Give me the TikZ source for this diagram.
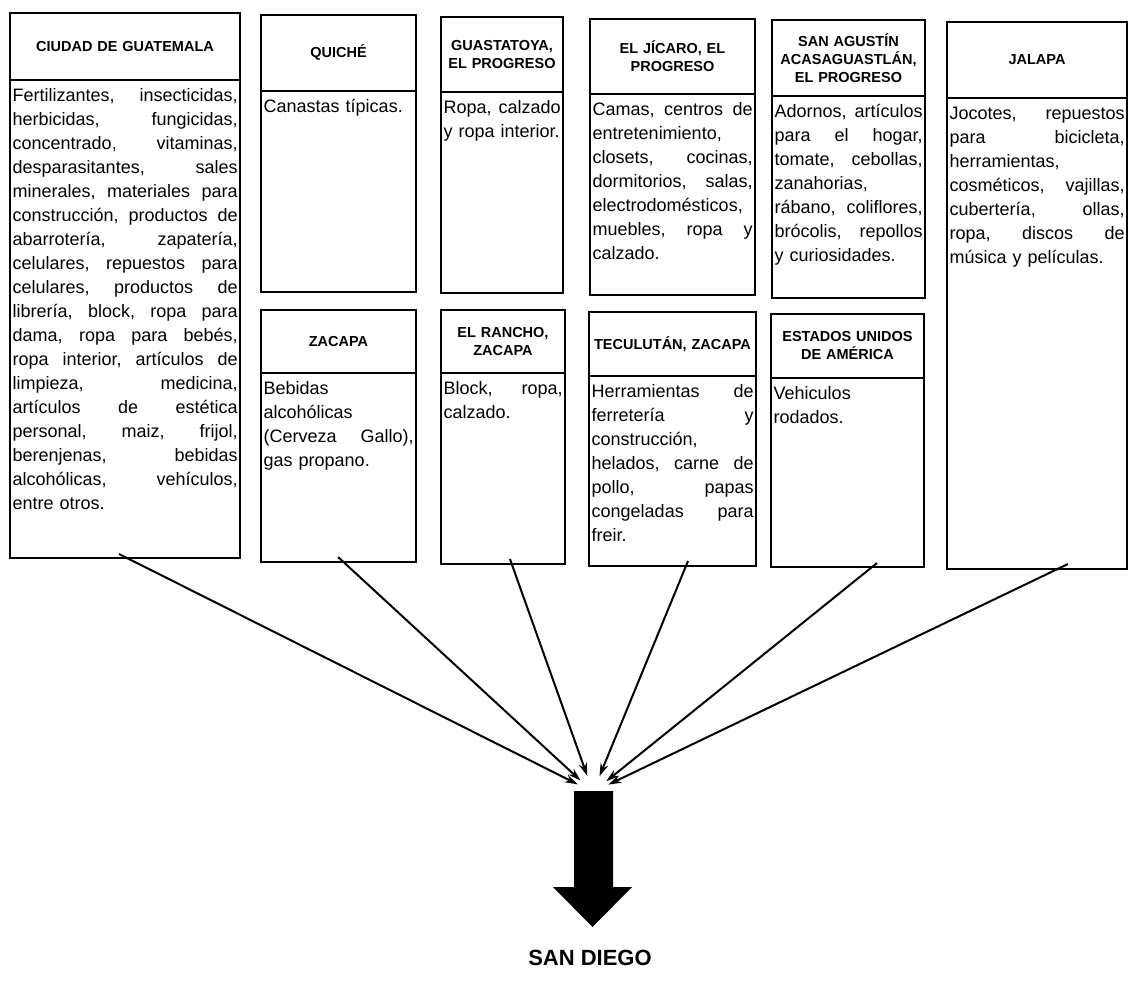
\documentclass[tikz,border=0pt]{standalone}
\usepackage{fontspec}
\setmainfont{Liberation Sans}
\usetikzlibrary{arrows.meta,calc,fit}
\newcommand\jl[1]{\makebox[\bw pt][s]{\frenchspacing\spaceskip=.278em plus 1fil\relax #1}}
\newcommand\placebox[8]{%
  \pgfmathsetmacro\bw{#3-#2-5}%
  \pgfmathsetmacro\hw{#3-#2-6}%
  \node[frame, fit={(#2,#4) (#3,#6)}] (#1) {};
  \draw[divider] (#2,#5) -- (#3,#5);
  \node[head, text width=\hw pt] (#1-h) at ({(#2+#3)/2},{(#4+#5)/2}) {#7};
  \node[body, text width=\bw pt, anchor=north west] (#1-b) at ({#2+2.5},{#5+4.5}) {#8};
}
\begin{document}
\begin{tikzpicture}[x=1pt,y=-1pt,
  frame/.style={draw, line width=1.1pt, inner sep=0pt, outer sep=0pt},
  divider/.style={line width=1.1pt},
  head/.style={font=\bfseries\fontsize{14.5}{18}\selectfont, align=center, inner sep=0pt},
  body/.style={font=\fontsize{18}{24}\selectfont, align=left, inner sep=0pt},
  conn/.style={line width=2pt, -{Stealth[length=13pt,width=8pt]}, shorten >=17pt}]
\useasboundingbox (0,0) rectangle (1129,984);

\placebox{gua}{10}{240}{13}{80}{558}{CIUDAD DE GUATEMALA}{%
\jl{\strut Fertilizantes, insecticidas,}\\
\jl{herbicidas, fungicidas,}\\
\jl{concentrado, vitaminas,}\\
\jl{desparasitantes, sales}\\
\jl{minerales, materiales para}\\
\jl{construcción, productos de}\\
\jl{abarrotería, zapatería,}\\
\jl{celulares, repuestos para}\\
\jl{celulares, productos de}\\
\jl{librería, block, ropa para}\\
\jl{dama, ropa para bebés,}\\
\jl{ropa interior, artículos de}\\
\jl{limpieza, medicina,}\\
\jl{artículos de estética}\\
\jl{personal, maiz, frijol,}\\
\jl{berenjenas, bebidas}\\
\jl{alcohólicas, vehículos,}\\
entre otros.}

\placebox{qui}{261}{416}{15}{91}{292}{QUICHÉ}{\strut Canastas típicas.}

\placebox{gp}{441}{563}{17}{92}{293}{GUASTATOYA,\\EL PROGRESO}{%
\jl{\strut Ropa, calzado}\\
y ropa interior.}

\placebox{jic}{590}{755}{19}{94}{295}{EL JÍCARO, EL\\PROGRESO}{%
\jl{\strut Camas, centros de}\\
entretenimiento,\\
\jl{closets, cocinas,}\\
\jl{dormitorios, salas,}\\
electrodomésticos,\\
\jl{muebles, ropa y}\\
calzado.}

\placebox{sag}{772}{925}{20}{96}{298}{SAN AGUSTÍN\\ACASAGUASTLÁN,\\EL PROGRESO}{%
\jl{\strut Adornos, artículos}\\
\jl{para el hogar,}\\
\jl{tomate, cebollas,}\\
zanahorias,\\
\jl{rábano, coliflores,}\\
\jl{brócolis, repollos}\\
y curiosidades.}

\placebox{jal}{947}{1127}{22}{98}{569}{JALAPA}{%
\jl{\strut Jocotes, repuestos}\\
\jl{para bicicleta,}\\
herramientas,\\
\jl{cosméticos, vajillas,}\\
\jl{cubertería, ollas,}\\
\jl{ropa, discos de}\\
música y películas.}

\placebox{zac}{261}{416}{310}{373}{562}{ZACAPA}{%
\strut Bebidas\\
alcohólicas\\
\jl{(Cerveza Gallo),}\\
gas propano.}

\placebox{ran}{441}{565}{310}{373}{564}{EL RANCHO,\\ZACAPA}{%
\jl{\strut Block, ropa,}\\
calzado.}

\placebox{tec}{589}{756}{312}{376}{566}{TECULUTÁN, ZACAPA}{%
\jl{\strut Herramientas de}\\
\jl{ferretería y}\\
construcción,\\
\jl{helados, carne de}\\
\jl{pollo, papas}\\
\jl{congeladas para}\\
freir.}

\placebox{usa}{771}{924}{314}{378}{567}{ESTADOS UNIDOS\\DE AMÉRICA}{%
\strut Vehiculos\\
rodados.}

% connectors
\coordinate (T) at (593,792);
\coordinate (s1) at ($(gua.south west)!0.474!(gua.south east)+(0,-4)$);
\coordinate (s2) at ($(zac.south west)!0.497!(zac.south east)+(0,-5)$);
\coordinate (s3) at ($(ran.south west)!0.556!(ran.south east)+(0,-5)$);
\coordinate (s4) at ($(tec.south west)!0.593!(tec.south east)+(0,-5)$);
\coordinate (s5) at ($(usa.south west)!0.693!(usa.south east)+(0,-4)$);
\coordinate (s6) at ($(jal.south west)!0.672!(jal.south east)+(0,-5)$);
\foreach \s in {s1,s2,s3,s4,s5,s6} \draw[conn] (\s) -- (T);

% big arrow
\fill[black] (574,791) -- (613,791) -- (613,887) -- (632,887) -- (592.5,927)
  -- (553,887) -- (574,887) -- cycle;

\node[font=\bfseries\fontsize{22}{26}\selectfont] (sd) at (590,958) {SAN DIEGO};
\end{tikzpicture}
\end{document}
